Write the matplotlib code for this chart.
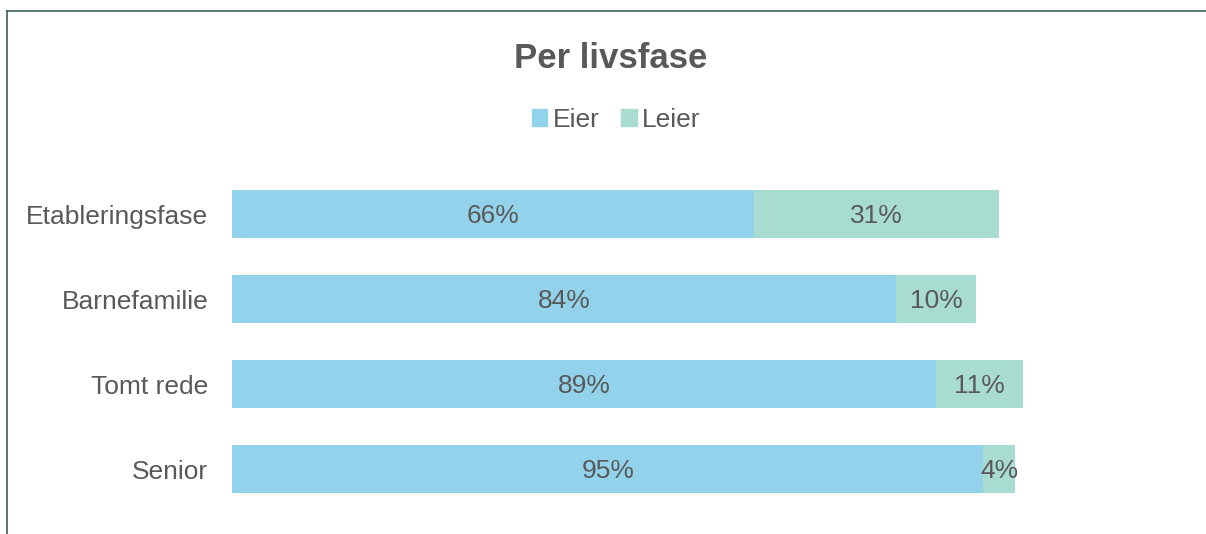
import matplotlib.pyplot as plt
from matplotlib.patches import Rectangle
from matplotlib.lines import Line2D

plt.rcParams['font.family'] = ['Liberation Sans', 'DejaVu Sans']

kategorier = ['Etableringsfase', 'Barnefamilie', 'Tomt rede', 'Senior']
eier = [66, 84, 89, 95]
leier = [31, 10, 11, 4]
serier = ['Eier', 'Leier']
farger = ['#92d3eb', '#a8dcd1']
tekstfarge = '#595959'

fig = plt.figure(figsize=(12.06, 5.34), dpi=100)
fig.patch.set_facecolor('white')

# ramme rundt diagrammet (topp og venstre)
fig.add_artist(Line2D([7/1206, 1], [1 - 11/534, 1 - 11/534], transform=fig.transFigure,
                      color='#3d5c5c', lw=1.2))
fig.add_artist(Line2D([7/1206, 7/1206], [0, 1 - 11/534], transform=fig.transFigure,
                      color='#3d5c5c', lw=1.2))

ax = fig.add_axes([232/1206, 0.0421, 791/1206, 0.6367])
y = list(range(len(kategorier)))
ax.barh(y, eier, height=0.565, color=farger[0], label=serier[0])
ax.barh(y, leier, left=eier, height=0.565, color=farger[1], label=serier[1])

for i in y:
    ax.text(eier[i] / 2, i + 0.02, f'{eier[i]}%', ha='center', va='center',
            fontsize=19, color=tekstfarge)
    ax.text(eier[i] + leier[i] / 2, i + 0.02, f'{leier[i]}%', ha='center', va='center',
            fontsize=19, color=tekstfarge)

ax.set_xlim(0, 100)
ax.set_ylim(3.5, -0.5)
ax.set_yticks(y)
ax.set_yticklabels(kategorier, fontsize=19, color=tekstfarge)
ax.tick_params(axis='y', length=0, pad=17)
ax.set_xticks([])
for s in ax.spines.values():
    s.set_visible(False)

fig.text(611/1206, 1 - 58/534, 'Per livsfase', ha='center', va='center',
         fontsize=25, fontweight='bold', color=tekstfarge)

handles = [Rectangle((0, 0), 1, 1, color=c) for c in farger]
fig.legend(handles, serier, loc='center', bbox_to_anchor=(616/1206, 1 - 120/534),
           ncol=2, frameon=False, fontsize=19, labelcolor=tekstfarge,
           handlelength=0.6, handleheight=0.6, handletextpad=0.2, columnspacing=0.8)

fig.savefig('out.png', dpi=100)
